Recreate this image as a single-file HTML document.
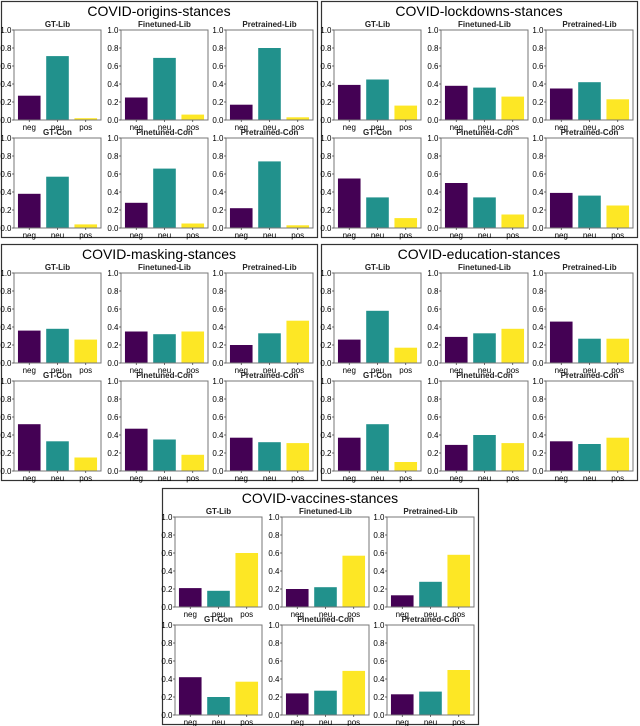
<!DOCTYPE html>
<html><head><meta charset="utf-8"><style>
body{margin:0;background:#fff;}
svg{display:block;font-family:"Liberation Sans","DejaVu Sans",sans-serif;}
</style></head><body>
<svg id="fig" width="640" height="726" viewBox="0 0 640 726"></svg>
<script>
const panelTitles=["COVID-origins-stances","COVID-lockdowns-stances","COVID-masking-stances","COVID-education-stances","COVID-vaccines-stances"];
const subTitles=["GT-Lib","Finetuned-Lib","Pretrained-Lib","GT-Con","Finetuned-Con","Pretrained-Con"];
const categories=["neg","neu","pos"];
const yTicks=[0,0.2,0.4,0.6,0.8,1.0];
const yTickLabels=["0.0","0.2","0.4","0.6","0.8","1.0"];
const originsVals=[[.27,.71,.02],[.25,.69,.06],[.17,.80,.03],[.38,.57,.04],[.28,.66,.05],[.22,.74,.03]];
const lockdownsVals=[[.39,.45,.16],[.38,.36,.26],[.35,.42,.23],[.55,.34,.11],[.50,.34,.15],[.39,.36,.25]];
const maskingVals=[[.36,.38,.26],[.35,.32,.35],[.20,.33,.47],[.52,.33,.15],[.47,.35,.18],[.37,.32,.31]];
const educationVals=[[.26,.58,.17],[.29,.33,.38],[.46,.27,.27],[.37,.52,.10],[.29,.40,.31],[.33,.30,.37]];
const vaccinesVals=[[.21,.18,.60],[.20,.22,.57],[.13,.28,.58],[.42,.20,.37],[.24,.27,.49],[.23,.26,.50]];
const allVals=[originsVals,lockdownsVals,maskingVals,educationVals,vaccinesVals];
const colors=["#440154","#21918c","#fde725"];
const panelPos=[[1,1],[321,1],[1,244],[321,244],[162,488]];
const NS="http://www.w3.org/2000/svg";
const svg=document.getElementById('fig');
function mk(tag,attrs,parent){const e=document.createElementNS(NS,tag);for(const k in attrs)e.setAttribute(k,attrs[k]);parent.appendChild(e);return e;}
const colL=[13,120,225],AW=87,rowT=[29,137],AH=90;
panelTitles.forEach((pt,p)=>{
  const [px,py]=panelPos[p];
  const g=mk('g',{transform:`translate(${px},${py})`},svg);
  
  
  const fr=mk('rect',{x:0.5,y:0.5,width:316,height:236,fill:'none',stroke:'#333','stroke-width':1.2},g);
  
  
  const t=mk('text',{x:158,y:15,'text-anchor':'middle','font-size':14,fill:'#000'},g);
  t.textContent=pt;
  
  
  subTitles.forEach((st,s)=>{
    const ax=colL[s%3],ay=rowT[Math.floor(s/3)];
    const sg=mk('g',{transform:`translate(${ax},${ay})`},g);
    
    
    const xs=v=>(v+0.54)/3.08*AW;
    const ys=v=>AH-v*AH;
    const vals=allVals[p][s];
    vals.forEach((v,i)=>{
      const b=mk('rect',{x:xs(i-0.4),y:ys(v),width:xs(0.4)-xs(-0.4),height:AH-ys(v),fill:colors[i]},sg);
      
      
    });
    const box=mk('rect',{x:0,y:0,width:AW,height:AH,fill:'none',stroke:'#777','stroke-width':1},sg);
    
    
    yTicks.forEach((v,i)=>{
      mk('line',{x1:-2,x2:0,y1:ys(v),y2:ys(v),stroke:'#333','stroke-width':0.7},sg);
      const tl=mk('text',{x:-2.5,y:ys(v)+3,'text-anchor':'end','font-size':8,fill:'#000'},sg);
      tl.textContent=yTickLabels[i];
      
      
    });
    categories.forEach((c,i)=>{
      mk('line',{x1:xs(i),x2:xs(i),y1:AH,y2:AH+2,stroke:'#333','stroke-width':0.7},sg);
      const xl=mk('text',{x:xs(i),y:AH+10,'text-anchor':'middle','font-size':8,fill:'#000'},sg);
      xl.textContent=c;
      
      
    });
    const stt=mk('text',{x:AW/2,y:-3,'text-anchor':'middle','font-size':8,'font-weight':'bold',fill:'#222'},sg);
    stt.textContent=st;
    
    
  });
});
</script>
</body></html>
